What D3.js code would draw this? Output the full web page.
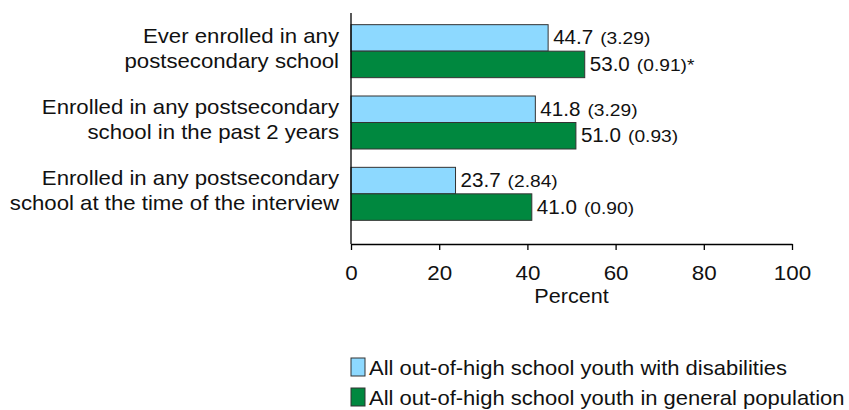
<!DOCTYPE html>
<html><head><meta charset="utf-8">
<script src="https://cdn.jsdelivr.net/npm/d3@7/dist/d3.min.js"></script>
<style>body{margin:0;background:#fff}svg{display:block}text{font-family:"Liberation Sans",Arial,sans-serif;fill:#111}</style>
</head><body><svg id="c" width="849" height="410"></svg>
<script>
const categories = [
  ["Ever enrolled in any", "postsecondary school"],
  ["Enrolled in any postsecondary", "school in the past 2 years"],
  ["Enrolled in any postsecondary", "school at the time of the interview"]
];
const seriesNames = ["All out-of-high school youth with disabilities", "All out-of-high school youth in general population"];
const disabilities = [44.7, 41.8, 23.7];
const seDisabilities = ["3.29", "3.29", "2.84"];
const general = [53.0, 51.0, 41.0];
const seGeneral = ["0.91", "0.93", "0.90"];
const sigMark = ["*", "", ""];
const xTicks = [0, 20, 40, 60, 80, 100];
const colors = ["#8DD9FF", "#00883F"];

const SX = 1.11;
const svg = d3.select("#c");
const x = d3.scaleLinear().domain([0, 100]).range([351, 792]);
const y = d3.scaleBand().domain(d3.range(categories.length)).range([15.5, 229.5]).padding(0);
const sub = d3.scaleBand().domain([0, 1]).range([0, y.bandwidth()]).paddingInner(0).paddingOuter(0.346);

function stext(parent, tx, ty, str, size, anchor, sx) {
  return parent.append("text").attr("transform", `translate(${tx},${ty}) scale(${sx || SX},1)`)
    .attr("font-size", size).attr("text-anchor", anchor || "start").text(str);
}

const rows = categories.map((c, i) => ({
  i, label: c,
  vals: [
    {s: 0, v: disabilities[i], se: seDisabilities[i], mark: ""},
    {s: 1, v: general[i], se: seGeneral[i], mark: sigMark[i]}
  ]
}));

// category labels
rows.forEach(r => {
  const cy = y(r.i) + y.bandwidth() / 2 - 3;
  r.label.forEach((ln, k) => {
    stext(svg, 339, cy + (k - (r.label.length - 1) / 2) * 25 + 7, ln, 20, "end");
  });
});

// bars
const g = svg.selectAll("g.row").data(rows).join("g").attr("class", "row")
  .attr("transform", d => `translate(0,${y(d.i)})`);
g.selectAll("rect").data(d => d.vals).join("rect")
  .attr("x", x(0)).attr("y", d => sub(d.s))
  .attr("width", d => x(d.v) - x(0)).attr("height", sub.bandwidth())
  .attr("fill", d => colors[d.s]).attr("stroke", "#333").attr("stroke-width", 1);
g.each(function(d) {
  const gg = d3.select(this);
  d.vals.forEach(v => {
    const ty = sub(v.s) + sub.bandwidth() / 2 + 6.5;
    const tx = x(v.v) + 5;
    const t1 = stext(gg, tx, ty, v.v.toFixed(1), 20, "start", 1.03);
    const w = t1.node().getComputedTextLength() * 1.03;
    stext(gg, tx + w + 7, ty, "(" + v.se + ")" + v.mark, 17, "start", 1.13);
  });
});

// axes
svg.append("line").attr("x1", x(0)).attr("x2", x(0)).attr("y1", 13).attr("y2", 244)
  .attr("stroke", "#000").attr("stroke-width", 1.3);
const ax = svg.append("g").attr("transform", "translate(0,244)")
  .call(d3.axisBottom(x).tickValues(xTicks).tickSize(6).tickSizeOuter(0).tickPadding(16));
ax.selectAll("path,line").attr("stroke", "#000").attr("stroke-width", 1.3);
ax.selectAll("text").attr("font-size", 20).attr("font-family", '"Liberation Sans",Arial,sans-serif')
  .attr("fill", "#111").attr("transform", `scale(1.12,1)`);

stext(svg, (x(0) + x(100)) / 2, 303, "Percent", 20, "middle", 1.08);

// legend
const lg = svg.selectAll("g.leg").data(seriesNames).join("g").attr("class", "leg")
  .attr("transform", (d, i) => `translate(351,${358 + i * 30})`);
lg.append("rect").attr("width", 14).attr("height", 18)
  .attr("fill", (d, i) => colors[i]).attr("stroke", "#333").attr("stroke-width", 1);
lg.each(function(d) { stext(d3.select(this), 18, 17, d, 20, "start", 1.1); });
</script></body></html>
